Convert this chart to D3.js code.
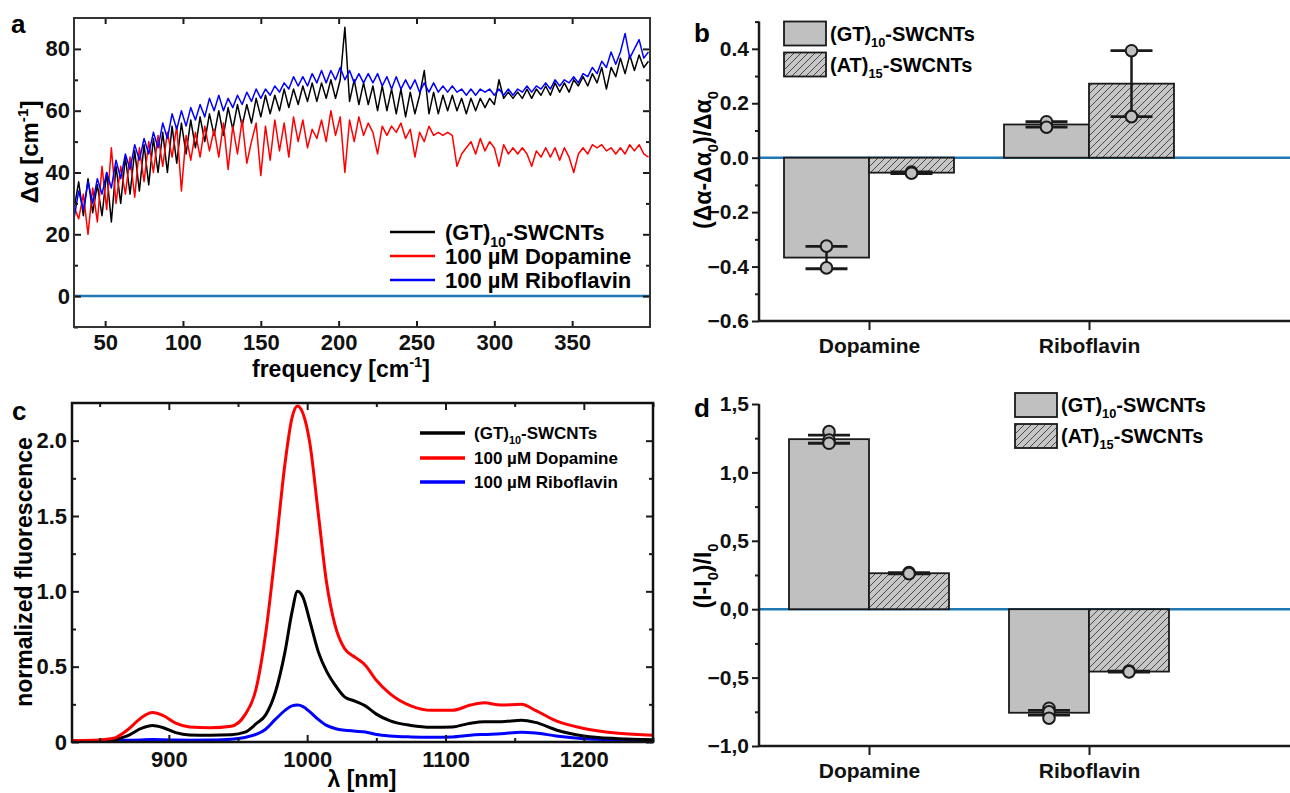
<!DOCTYPE html>
<html lang="en">
<head>
<meta charset="UTF-8">
<title>SWCNT sensor panels</title>
<script src="https://d3js.org/d3.v7.min.js"></script>
<style>
  body { margin: 0; background: #fff; }
  svg { display: block; }
</style>
</head>
<body>
<div id="chart"></div>
<script>
// ---- panel a: absorption difference spectra (3 cm-1 sampling) ----
const freq = d3.range(30, 400, 3);
const absGT = [28,37,26,38,27,36,26,40,24,42,30,45,33,47,34,49,36,51,40,53,40,55,43,56,46,57,48,58,50,59,
  52,60,52,61,54,62,55,62,56,64,58,65,59,65,60,67,61,67,62,68,63,69,63,69,64,70,64,70,87,63,
  70,62,69,62,68,60,68,60,67,59,67,58,66,59,65,73,59,66,59,65,60,65,60,64,59,64,60,64,61,64,
  62,70,64,66,64,66,64,67,64,67,65,68,65,69,66,69,66,70,68,71,68,72,69,74,67,74,71,77,72,78,
  73,78,74,76];
const absDopa = [29,25,33,20,35,24,42,28,48,30,42,33,45,32,48,37,50,40,52,42,53,45,55,34,52,44,53,45,55,47,
  54,45,56,41,55,46,57,43,50,56,39,55,44,57,47,56,45,58,50,57,48,54,51,57,50,60,52,58,40,57,
  50,58,52,56,53,46,55,52,55,53,56,51,54,45,53,50,55,52,53,52,53,52,42,46,48,50,46,51,47,50,
  48,42,49,46,48,46,48,46,42,47,45,48,45,48,44,48,45,40,46,48,46,49,48,49,47,48,46,48,46,49,
  47,49,46,45];
const absRibo = [25,34,28,37,30,38,33,40,35,44,38,46,41,49,44,51,46,53,48,56,51,59,54,60,55,61,57,62,58,64,
  60,65,60,64,61,65,62,66,63,67,64,67,65,68,66,69,67,71,68,71,68,72,69,73,69,73,70,74,70,73,
  69,72,69,72,69,72,68,71,67,71,67,70,67,70,66,69,66,69,66,68,66,68,66,67,65,67,65,67,66,67,
  65,67,65,67,65,67,66,68,66,68,67,69,67,70,68,70,69,71,69,72,71,74,72,76,74,79,75,79,85,77,
  80,83,77,79];

// ---- panel c: fluorescence spectra ----
const lambda = [830,845,860,870,880,888,896,905,915,930,945,955,963,970,977,984,989,993,997,1002,
  1008,1014,1020,1027,1035,1042,1050,1060,1075,1090,1105,1118,1128,1140,1155,1165,1180,1200,1225,1250];
const flGT = [0.005,0.008,0.015,0.04,0.09,0.11,0.095,0.062,0.047,0.045,0.048,0.065,0.12,0.18,0.33,0.6,0.86,1.0,0.96,0.8,
  0.6,0.47,0.38,0.3,0.27,0.24,0.185,0.14,0.11,0.098,0.1,0.125,0.135,0.135,0.145,0.13,0.08,0.04,0.022,0.015];
const flDopa = [0.01,0.012,0.025,0.08,0.16,0.195,0.175,0.125,0.1,0.095,0.105,0.18,0.35,0.72,1.26,1.85,2.15,2.23,2.18,1.98,
  1.52,1.06,0.78,0.62,0.56,0.51,0.41,0.32,0.24,0.21,0.21,0.245,0.26,0.245,0.25,0.21,0.14,0.09,0.058,0.045];
const flRibo = [0.005,0.006,0.008,0.011,0.014,0.016,0.015,0.013,0.012,0.013,0.018,0.03,0.05,0.085,0.15,0.21,0.24,0.245,0.235,0.2,
  0.15,0.11,0.09,0.078,0.072,0.066,0.05,0.04,0.034,0.032,0.034,0.045,0.05,0.055,0.065,0.06,0.04,0.022,0.014,0.01];

// ---- panels b and d: bar data ----
const analytes = ["Dopamine", "Riboflavin"];
const wraps = ["GT", "AT"];
const relAbsGT = [-0.367, 0.122];
const relAbsAT = [-0.055, 0.272];
const relAbsErrGT = [0.041, 0.01];
const relAbsErrAT = [0.003, 0.121];
const relAbsPtsGT = [[-0.325, -0.405], [0.132, 0.112]];
const relAbsPtsAT = [[-0.053, -0.057], [0.393, 0.151]];
const relFlGT = [1.243, -0.757];
const relFlAT = [0.263, -0.456];
const relFlErrGT = [0.03, 0.017];
const relFlErrAT = [0.004, 0.004];
const relFlPtsGT = [[1.298, 1.237, 1.213], [-0.724, -0.75, -0.797]];
const relFlPtsAT = [[0.267, 0.26], [-0.452, -0.458]];

const font = '"Liberation Sans", Arial, Helvetica, sans-serif';
const zeroBlue = "#1f77b4";
const ink = "#1a1a1a";

const svg = d3.select("#chart").append("svg")
  .attr("width", 1290).attr("height", 793)
  .attr("font-family", font).attr("font-weight", "bold");

const defs = svg.append("defs");
const hatch = defs.append("pattern").attr("id", "hatch")
  .attr("patternUnits", "userSpaceOnUse").attr("width", 7).attr("height", 7);
hatch.append("rect").attr("width", 7).attr("height", 7).attr("fill", "#c6c6c6");
hatch.append("path").attr("d", "M-1,8 L8,-1 M-1,1 L1,-1 M6,8 L8,6")
  .attr("stroke", "#3c3c3c").attr("stroke-width", 0.9);

// text with sub/superscripts: parts = [[text, "sub"|"sup"|null], ...]
function rich(sel, parts, fs) {
  let shift = 0;
  parts.forEach(([t, m]) => {
    const target = m === "sub" ? 0.3 * fs : m === "sup" ? -0.42 * fs : 0;
    sel.append("tspan")
      .attr("dy", target - shift)
      .attr("font-size", m ? 0.64 * fs : fs)
      .text(t);
    shift = target;
  });
  return sel;
}

function styleAxis(g, fs) {
  g.attr("font-family", font).attr("font-size", fs).attr("font-weight", "bold");
  g.selectAll("line").attr("stroke", ink).attr("stroke-width", 2);
  g.selectAll("text").attr("fill", "#111");
  g.select(".domain").remove();
}

// ================= panel a =================
const ax = d3.scaleLinear().domain([30, 400]).range([74, 650]);
const ay = d3.scaleLinear().domain([-10, 90]).range([327, 18]);
const ga = svg.append("g");
const xa = [50, 100, 150, 200, 250, 300, 350];

defs.append("clipPath").attr("id", "clipA").append("rect")
  .attr("x", ax.range()[0]).attr("y", ay.range()[1])
  .attr("width", ax.range()[1] - ax.range()[0]).attr("height", ay.range()[0] - ay.range()[1]);

ga.append("line").attr("x1", ax.range()[0]).attr("x2", ax.range()[1])
  .attr("y1", ay(0)).attr("y2", ay(0)).attr("stroke", zeroBlue).attr("stroke-width", 2.5);

const lineA = d3.line().x((d, i) => ax(freq[i])).y(d => ay(d));
const seriesA = [[absGT, "#000"], [absDopa, "#ff0000"], [absRibo, "#0000ff"]];
ga.append("g").attr("clip-path", "url(#clipA)").selectAll("path").data(seriesA).join("path")
  .attr("d", d => lineA(d[0])).attr("fill", "none")
  .attr("stroke", d => d[1]).attr("stroke-width", 1.5).attr("stroke-linejoin", "round");

ga.append("g").attr("transform", `translate(0,${ay.range()[0]})`)
  .call(d3.axisBottom(ax).tickValues(xa).tickSizeInner(-6).tickSizeOuter(0).tickPadding(7))
  .call(g => styleAxis(g, 22));
ga.append("g").attr("transform", `translate(0,${ay.range()[1]})`)
  .call(d3.axisTop(ax).tickValues(xa).tickSizeInner(-6).tickSizeOuter(0).tickFormat(""))
  .call(g => styleAxis(g, 22));
ga.append("g").attr("transform", `translate(${ax.range()[0]},0)`)
  .call(d3.axisLeft(ay).tickValues([0, 20, 40, 60, 80]).tickSizeInner(-7).tickSizeOuter(0).tickPadding(4))
  .call(g => styleAxis(g, 22));
ga.append("g").attr("transform", `translate(${ax.range()[0]},0)`)
  .call(d3.axisLeft(ay).tickValues([-10, 10, 30, 50, 70]).tickSizeInner(-4).tickSizeOuter(0).tickFormat(""))
  .call(g => styleAxis(g, 22));
ga.append("g").attr("transform", `translate(${ax.range()[1]},0)`)
  .call(d3.axisRight(ay).tickValues([0, 20, 40, 60, 80]).tickSizeInner(-7).tickSizeOuter(0).tickFormat(""))
  .call(g => styleAxis(g, 22));
ga.append("g").attr("transform", `translate(${ax.range()[1]},0)`)
  .call(d3.axisRight(ay).tickValues([10, 30, 50, 70]).tickSizeInner(-4).tickSizeOuter(0).tickFormat(""))
  .call(g => styleAxis(g, 22));
ga.append("rect").attr("x", ax.range()[0]).attr("y", ay.range()[1])
  .attr("width", ax.range()[1] - ax.range()[0]).attr("height", ay.range()[0] - ay.range()[1])
  .attr("fill", "none").attr("stroke", "#333").attr("stroke-width", 2);

rich(ga.append("text").attr("x", 341).attr("y", 377).attr("text-anchor", "middle"),
  [["frequency [cm", null], ["-1", "sup"], ["]", null]], 23);
rich(ga.append("text").attr("transform", "translate(38,152) rotate(-90)").attr("text-anchor", "middle"),
  [["\u0394\u03b1 [cm", null], ["-1", "sup"], ["]", null]], 24);
ga.append("text").attr("x", 11).attr("y", 33).attr("font-size", 26).text("a");

const legA = [["GT", "#000"], ["Dopa", "#ff0000"], ["Ribo", "#0000ff"]];
const legAY = [232, 256, 280];
legA.forEach((d, i) => {
  ga.append("line").attr("x1", 390).attr("x2", 435).attr("y1", legAY[i]).attr("y2", legAY[i])
    .attr("stroke", d[1]).attr("stroke-width", 2.5);
  const t = ga.append("text").attr("x", 445).attr("y", legAY[i] + 8);
  if (i === 0) rich(t, [["(GT)", null], ["10", "sub"], ["-SWCNTs", null]], 22);
  else t.attr("font-size", 22).text(i === 1 ? "100 \u00b5M Dopamine" : "100 \u00b5M Riboflavin");
});

// ================= panel c =================
const cx = d3.scaleLinear().domain([830, 1250]).range([72, 653]);
const cy = d3.scaleLinear().domain([0, 2.25]).range([742, 403]);
const gc = svg.append("g");

defs.append("clipPath").attr("id", "clipC").append("rect")
  .attr("x", cx.range()[0]).attr("y", cy.range()[1])
  .attr("width", cx.range()[1] - cx.range()[0]).attr("height", cy.range()[0] - cy.range()[1]);

const lineC = d3.line().x((d, i) => cx(lambda[i])).y(d => cy(d)).curve(d3.curveMonotoneX);
const seriesC = [[flRibo, "#0000ff"], [flGT, "#000"], [flDopa, "#ff0000"]];
gc.append("g").attr("clip-path", "url(#clipC)").selectAll("path").data(seriesC).join("path")
  .attr("d", d => lineC(d[0])).attr("fill", "none")
  .attr("stroke", d => d[1]).attr("stroke-width", 3).attr("stroke-linejoin", "round");

const xcMaj = [900, 1000, 1100, 1200], xcMin = [850, 950, 1050, 1150, 1250];
const ycMaj = [0, 0.5, 1, 1.5, 2], ycMin = [0.25, 0.75, 1.25, 1.75];
const fmtC = d => d === 0 ? "0" : d3.format(".1f")(d);
gc.append("g").attr("transform", `translate(0,${cy.range()[0]})`)
  .call(d3.axisBottom(cx).tickValues(xcMaj).tickFormat(d3.format("d"))
    .tickSizeInner(-7).tickSizeOuter(0).tickPadding(9))
  .call(g => styleAxis(g, 22));
gc.append("g").attr("transform", `translate(0,${cy.range()[0]})`)
  .call(d3.axisBottom(cx).tickValues(xcMin).tickSizeInner(-4).tickSizeOuter(0).tickFormat(""))
  .call(g => styleAxis(g, 22));
gc.append("g").attr("transform", `translate(0,${cy.range()[1]})`)
  .call(d3.axisTop(cx).tickValues(xcMaj).tickSizeInner(-7).tickSizeOuter(0).tickFormat(""))
  .call(g => styleAxis(g, 22));
gc.append("g").attr("transform", `translate(0,${cy.range()[1]})`)
  .call(d3.axisTop(cx).tickValues(xcMin).tickSizeInner(-4).tickSizeOuter(0).tickFormat(""))
  .call(g => styleAxis(g, 22));
gc.append("g").attr("transform", `translate(${cx.range()[0]},0)`)
  .call(d3.axisLeft(cy).tickValues(ycMaj).tickFormat(fmtC).tickSizeInner(-7).tickSizeOuter(0).tickPadding(5))
  .call(g => styleAxis(g, 22));
gc.append("g").attr("transform", `translate(${cx.range()[0]},0)`)
  .call(d3.axisLeft(cy).tickValues(ycMin).tickSizeInner(-4).tickSizeOuter(0).tickFormat(""))
  .call(g => styleAxis(g, 22));
gc.append("g").attr("transform", `translate(${cx.range()[1]},0)`)
  .call(d3.axisRight(cy).tickValues(ycMaj).tickSizeInner(-7).tickSizeOuter(0).tickFormat(""))
  .call(g => styleAxis(g, 22));
gc.append("g").attr("transform", `translate(${cx.range()[1]},0)`)
  .call(d3.axisRight(cy).tickValues(ycMin).tickSizeInner(-4).tickSizeOuter(0).tickFormat(""))
  .call(g => styleAxis(g, 22));
gc.append("rect").attr("x", cx.range()[0]).attr("y", cy.range()[1])
  .attr("width", cx.range()[1] - cx.range()[0]).attr("height", cy.range()[0] - cy.range()[1])
  .attr("fill", "none").attr("stroke", "#111").attr("stroke-width", 2.5);

gc.append("text").attr("x", 362).attr("y", 787).attr("text-anchor", "middle")
  .attr("font-size", 23).text("\u03bb [nm]");
gc.append("text").attr("transform", "translate(32,572) rotate(-90)").attr("text-anchor", "middle")
  .attr("font-size", 23).text("normalized fluorescence");
gc.append("text").attr("x", 12).attr("y", 420).attr("font-size", 26).text("c");

const legC = [["#000"], ["#ff0000"], ["#0000ff"]];
const legCY = [433, 458, 482];
legC.forEach((d, i) => {
  gc.append("line").attr("x1", 420).attr("x2", 465).attr("y1", legCY[i]).attr("y2", legCY[i])
    .attr("stroke", d[0]).attr("stroke-width", 3.5);
  const t = gc.append("text").attr("x", 474).attr("y", legCY[i] + 6);
  if (i === 0) rich(t, [["(GT)", null], ["10", "sub"], ["-SWCNTs", null]], 17);
  else t.attr("font-size", 17).text(i === 1 ? "100 \u00b5M Dopamine" : "100 \u00b5M Riboflavin");
});

// ================= bar panels b and d =================
function barPanel(cfg) {
  const g = svg.append("g");
  const x = d3.scalePoint().domain(analytes).range([759, 1199]).padding(0.5);
  const sub = d3.scaleBand().domain(wraps).range([-cfg.bw, cfg.bw]);
  const y = d3.scaleLinear().domain(cfg.domain).range(cfg.yRange);
  const left = 759, right = 1290, bottom = cfg.yRange[0];

  g.append("line").attr("x1", left).attr("x2", right).attr("y1", y(0)).attr("y2", y(0))
    .attr("stroke", zeroBlue).attr("stroke-width", 2.5);

  const rows = [];
  analytes.forEach((a, i) => {
    rows.push({ a, w: "GT", v: cfg.gt[i], e: cfg.gtErr[i], pts: cfg.gtPts[i] });
    rows.push({ a, w: "AT", v: cfg.at[i], e: cfg.atErr[i], pts: cfg.atPts[i] });
  });

  g.selectAll("rect.bar").data(rows).join("rect").attr("class", "bar")
    .attr("x", d => x(d.a) + sub(d.w)).attr("width", sub.bandwidth())
    .attr("y", d => y(Math.max(0, d.v))).attr("height", d => Math.abs(y(d.v) - y(0)))
    .attr("fill", d => d.w === "GT" ? "#c0c0c0" : "url(#hatch)")
    .attr("stroke", ink).attr("stroke-width", 1.8);

  const eb = g.selectAll("g.err").data(rows).join("g").attr("class", "err")
    .attr("transform", d => `translate(${x(d.a) + sub(d.w) + sub.bandwidth() / 2},0)`);
  eb.append("line").attr("x1", 0).attr("x2", 0)
    .attr("y1", d => y(d.v - d.e)).attr("y2", d => y(d.v + d.e))
    .attr("stroke", ink).attr("stroke-width", 2.5);
  eb.selectAll("line.cap").data(d => [d.v - d.e, d.v + d.e]).join("line").attr("class", "cap")
    .attr("x1", -21).attr("x2", 21).attr("y1", v => y(v)).attr("y2", v => y(v))
    .attr("stroke", ink).attr("stroke-width", 2.8);
  eb.selectAll("circle").data(d => d.pts).join("circle")
    .attr("cx", 0).attr("cy", v => y(v)).attr("r", 5.8)
    .attr("fill", "#c0c0c0").attr("stroke", ink).attr("stroke-width", 2);

  // axes
  g.append("line").attr("x1", left).attr("x2", left).attr("y1", cfg.yRange[1]).attr("y2", bottom)
    .attr("stroke", ink).attr("stroke-width", 2.5);
  g.append("line").attr("x1", left).attr("x2", right).attr("y1", bottom).attr("y2", bottom)
    .attr("stroke", ink).attr("stroke-width", 2.5);
  g.append("g").attr("transform", `translate(${left},0)`)
    .call(d3.axisLeft(y).tickValues(cfg.major).tickFormat(cfg.fmt).tickSizeInner(7).tickSizeOuter(0).tickPadding(3))
    .call(s => styleAxis(s, 21));
  g.append("g").attr("transform", `translate(${left},0)`)
    .call(d3.axisLeft(y).tickValues(cfg.minor).tickSizeInner(4).tickSizeOuter(0).tickFormat(""))
    .call(s => styleAxis(s, 21));
  g.append("g").attr("transform", `translate(0,${bottom})`)
    .call(d3.axisBottom(x).tickSizeInner(9).tickSizeOuter(0).tickPadding(cfg.xPad))
    .call(s => styleAxis(s, 21));

  rich(g.append("text").attr("transform", `translate(${cfg.titleX},${cfg.titleY}) rotate(-90)`)
    .attr("text-anchor", "middle"), cfg.title, 23);
  g.append("text").attr("x", 694).attr("y", cfg.letterY).attr("font-size", 26).text(cfg.letter);

  // legend
  const legText = [[["(GT)", null], ["10", "sub"], ["-SWCNTs", null]],
                   [["(AT)", null], ["15", "sub"], ["-SWCNTs", null]]];
  wraps.forEach((w, i) => {
    const top = cfg.legY[i];
    g.append("rect").attr("x", cfg.legX).attr("y", top).attr("width", 42).attr("height", 24)
      .attr("fill", w === "GT" ? "#c0c0c0" : "url(#hatch)").attr("stroke", ink).attr("stroke-width", 1.8);
    rich(g.append("text").attr("x", cfg.legX + 46).attr("y", top + 19), legText[i], 20);
  });
}

barPanel({
  letter: "b", letterY: 42, bw: 85,
  domain: [-0.6, 0.5], yRange: [321, 21.6],
  gt: relAbsGT, at: relAbsAT, gtErr: relAbsErrGT, atErr: relAbsErrAT,
  gtPts: relAbsPtsGT, atPts: relAbsPtsAT,
  major: [-0.6, -0.4, -0.2, 0, 0.2, 0.4], minor: [-0.5, -0.3, -0.1, 0.1, 0.3, 0.5],
  fmt: d3.format(".1f"), xPad: 8,
  title: [["(\u0394\u03b1-\u0394\u03b1", null], ["0", "sub"], [")/\u0394\u03b1", null], ["0", "sub"]],
  titleX: 711, titleY: 160,
  legX: 784, legY: [21.5, 52.5]
});

barPanel({
  letter: "d", letterY: 417, bw: 80,
  domain: [-1.0, 1.5], yRange: [746, 404],
  gt: relFlGT, at: relFlAT, gtErr: relFlErrGT, atErr: relFlErrAT,
  gtPts: relFlPtsGT, atPts: relFlPtsAT,
  major: [-1, -0.5, 0, 0.5, 1, 1.5], minor: [-0.75, -0.25, 0.25, 0.75, 1.25],
  fmt: d => d3.format(".1f")(d).replace(".", ","), xPad: 8,
  title: [["(I-I", null], ["0", "sub"], [")/I", null], ["0", "sub"]],
  titleX: 711, titleY: 576,
  legX: 1015, legY: [393, 424]
});
</script>
</body>
</html>
